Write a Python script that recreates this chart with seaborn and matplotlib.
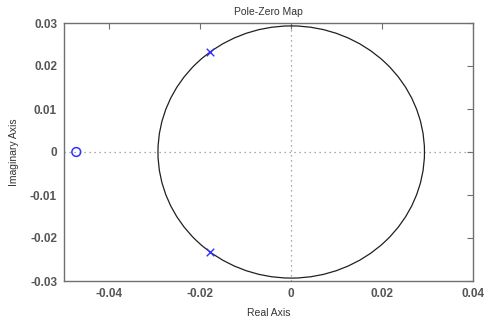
import numpy as np
import pandas as pd
import seaborn as sns
import matplotlib.pyplot as plt
from matplotlib.patches import Circle

# poles and zeros
pole_re = [-0.0178, -0.0178]
pole_im = [0.0233, -0.0233]
zero_re = [-0.0473]
zero_im = [0.0]

x_ticks = [-0.04, -0.02, 0, 0.02, 0.04]
y_ticks = [-0.03, -0.02, -0.01, 0, 0.01, 0.02, 0.03]
x_labels = ['-0.04', '-0.02', '0', '0.02', '0.04']
y_labels = ['-0.03', '-0.02', '-0.01', '0', '0.01', '0.02', '0.03']

sns.set_style("white")
plt.rcParams['font.family'] = ['Liberation Sans', 'DejaVu Sans']

fig = plt.figure(figsize=(4.88, 3.21), dpi=100)
ax = fig.add_axes([64 / 488, 1 - 281 / 321, 409 / 488, 258 / 321])

poles = pd.DataFrame({'re': pole_re, 'im': pole_im})
zeros = pd.DataFrame({'re': zero_re, 'im': zero_im})

ax.axhline(0, color='#909090', ls=(0, (1, 3)), lw=0.9, zorder=0)
ax.axvline(0, color='#909090', ls=(0, (1, 3)), lw=0.9, zorder=0)

# constant natural frequency circle through the poles
wn = float(np.hypot(pole_re[0], pole_im[0]))
ax.add_patch(Circle((0, 0), wn, fill=False, ec='#202020', lw=0.9, zorder=1))

sns.scatterplot(data=poles, x='re', y='im', marker='x', s=30, color='#3333ff',
                linewidth=1.0, ax=ax, zorder=3)
sns.scatterplot(data=zeros, x='re', y='im', marker='o', s=40, facecolor='none',
                edgecolor='#3333ff', linewidth=1.1, ax=ax, zorder=3)

ax.set_xlim(-0.05, 0.04)
ax.set_ylim(-0.03, 0.03)
ax.set_xticks(x_ticks)
ax.set_xticklabels(x_labels)
ax.set_yticks(y_ticks)
ax.set_yticklabels(y_labels)
ax.tick_params(direction='in', length=4, width=0.8, color='#707070',
               top=True, right=True, labelsize=8.5, labelcolor='#555555', pad=5)
for lab in ax.get_xticklabels() + ax.get_yticklabels():
    lab.set_fontweight('bold')
for sp in ax.spines.values():
    sp.set_color('#707070')
    sp.set_linewidth(1.0)

ax.set_title('Pole-Zero Map', fontsize=7.5, color='#333333', pad=6)
ax.set_xlabel('Real Axis', fontsize=7.5, color='#333333', labelpad=6)
ax.set_ylabel('Imaginary Axis', fontsize=7.5, color='#333333', labelpad=8)

fig.savefig('out.png', dpi=100)
